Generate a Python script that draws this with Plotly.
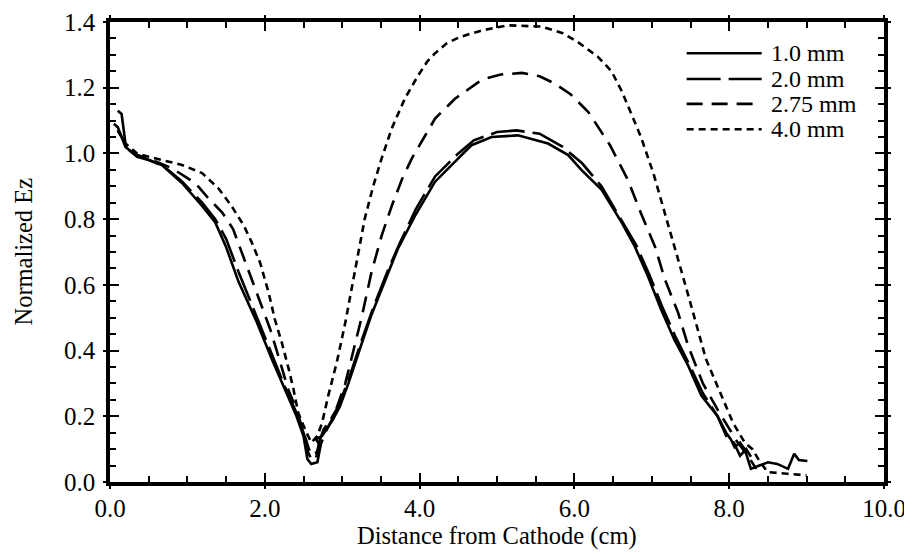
import plotly.graph_objects as go

# 读图得到的数据 (Distance from Cathode, cm -> Normalized Ez)
x_10mm = [0.05, 0.1, 0.2, 0.3, 0.45, 0.67, 0.93, 1.19, 1.36, 1.5, 1.66, 1.9, 2.09, 2.26, 2.41, 2.5,
          2.55, 2.6, 2.68, 2.72, 2.66, 2.74, 2.8, 2.88, 2.97, 3.08, 3.25, 3.38, 3.6, 3.72, 3.94, 4.2,
          4.5, 4.67, 4.93, 5.27, 5.66, 5.92, 6.09, 6.35, 6.61, 6.78, 6.95, 7.12, 7.29, 7.47, 7.64,
          7.85, 7.96, 8.02, 8.07, 8.14, 8.2, 8.28, 8.39, 8.5, 8.62, 8.76, 8.84, 8.9, 9.01]
y_10mm = [1.09, 1.08, 1.02, 1.0, 0.985, 0.965, 0.91, 0.84, 0.79, 0.715, 0.61, 0.485, 0.374, 0.283, 0.2, 0.14,
          0.07, 0.055, 0.06, 0.11, 0.13, 0.14, 0.16, 0.19, 0.23, 0.3, 0.42, 0.51, 0.64, 0.71, 0.81, 0.914,
          0.985, 1.025, 1.05, 1.055, 1.03, 0.995, 0.95, 0.89, 0.79, 0.717, 0.626, 0.525, 0.434, 0.354, 0.263,
          0.2, 0.15, 0.13, 0.106, 0.12, 0.1, 0.04, 0.05, 0.06, 0.055, 0.04, 0.086, 0.067, 0.064]

x_20mm = [0.1, 0.15, 0.2, 0.25, 0.35, 0.5, 0.7, 0.93, 1.19, 1.36, 1.5, 1.66, 1.9, 2.09, 2.26, 2.41, 2.5,
          2.56, 2.6, 2.66, 2.7, 2.76, 2.85, 2.95, 3.08, 3.25, 3.4, 3.6, 3.75, 3.95, 4.2, 4.5, 4.7, 5.0,
          5.25, 5.55, 5.85, 6.1, 6.35, 6.6, 6.8, 6.97, 7.14, 7.31, 7.48, 7.66, 7.85, 7.98, 8.06, 8.14,
          8.22, 8.3]
y_20mm = [1.13, 1.12, 1.03, 1.01, 0.99, 0.98, 0.96, 0.915, 0.85, 0.8, 0.74, 0.64, 0.5, 0.39, 0.29, 0.21, 0.15,
          0.09, 0.07, 0.07, 0.12, 0.16, 0.19, 0.23, 0.31, 0.43, 0.53, 0.65, 0.73, 0.83, 0.93, 1.0, 1.04, 1.065,
          1.07, 1.06, 1.02, 0.97, 0.9, 0.8, 0.72, 0.63, 0.53, 0.44, 0.36, 0.27, 0.2, 0.13, 0.12, 0.08,
          0.1, 0.07]

x_275mm = [0.1, 0.2, 0.35, 0.5, 0.8, 1.1, 1.27, 1.45, 1.59, 1.7, 1.92, 2.07, 2.2, 2.3, 2.41, 2.5, 2.57,
           2.63, 2.7, 2.78, 2.89, 3.04, 3.17, 3.25, 3.38, 3.51, 3.64, 3.77, 3.9, 4.07, 4.2, 4.37, 4.46,
           4.76, 4.84, 5.05, 5.32, 5.55, 5.75, 5.95, 6.18, 6.46, 6.69, 6.86, 7.04, 7.17, 7.34, 7.47,
           7.66, 7.85, 8.0, 8.11, 8.24, 8.35]
y_275mm = [1.07, 1.03, 0.995, 0.985, 0.955, 0.91, 0.864, 0.82, 0.77, 0.7, 0.566, 0.465, 0.364, 0.283, 0.22, 0.15, 0.1,
           0.08, 0.1, 0.15, 0.2, 0.3, 0.42, 0.5, 0.64, 0.75, 0.84, 0.92, 0.985, 1.055, 1.106, 1.146, 1.167,
           1.217, 1.227, 1.24, 1.245, 1.235, 1.212, 1.18, 1.126, 1.025, 0.92, 0.818, 0.717, 0.616, 0.515, 0.414,
           0.3, 0.22, 0.16, 0.12, 0.08, 0.04]

x_40mm = [0.1, 0.2, 0.35, 0.5, 0.93, 1.19, 1.4, 1.57, 1.73, 1.83, 1.94, 2.05, 2.13, 2.22, 2.31, 2.37, 2.43,
          2.52, 2.6, 2.68, 2.74, 2.82, 2.93, 3.04, 3.12, 3.21, 3.29, 3.4, 3.51, 3.64, 3.81, 3.98, 4.1, 4.2,
          4.35, 4.5, 4.65, 4.84, 5.14, 5.57, 5.85, 6.05, 6.3, 6.48, 6.61, 6.74, 6.86, 7.02, 7.12, 7.23, 7.34,
          7.45, 7.57, 7.7, 7.9, 8.05, 8.2, 8.3, 8.4, 8.5, 8.75, 9.0]
y_40mm = [1.07, 1.03, 1.0, 0.99, 0.965, 0.94, 0.894, 0.84, 0.78, 0.73, 0.667, 0.576, 0.495, 0.424, 0.343, 0.283, 0.212,
          0.16, 0.12, 0.14, 0.18, 0.263, 0.364, 0.485, 0.586, 0.7, 0.8, 0.9, 0.985, 1.076, 1.167, 1.237, 1.28, 1.305,
          1.335, 1.352, 1.364, 1.376, 1.39, 1.386, 1.366, 1.338, 1.295, 1.25, 1.19, 1.118, 1.05, 0.94, 0.86, 0.77, 0.677,
          0.586, 0.485, 0.374, 0.263, 0.18, 0.12, 0.1, 0.06, 0.03, 0.025, 0.02]

names = ['1.0 mm', '2.0 mm', '2.75 mm', '4.0 mm']
xs = [x_10mm, x_20mm, x_275mm, x_40mm]
ys = [y_10mm, y_20mm, y_275mm, y_40mm]
dashes = ['solid', '34px,8px', '16px,9px', '7px,5px']

FONT = 'Liberation Serif, Times New Roman, serif'

fig = go.Figure()
for name, x, y, d in zip(names, xs, ys, dashes):
    fig.add_trace(go.Scatter(x=x, y=y, name=name, mode='lines', showlegend=False,
                             line=dict(color='black', width=2.6, dash=d)))
# 空 trace, 让外侧刻度轴显示出来
fig.add_trace(go.Scatter(x=[], y=[], xaxis='x2', yaxis='y2', showlegend=False, hoverinfo='skip'))

# 手动图例 (线段较长)
legend_y = [0.932, 0.876, 0.822, 0.767]
for name, d, ly in zip(names, dashes, legend_y):
    fig.add_shape(type='line', xref='paper', yref='paper', x0=0.745, x1=0.842, y0=ly, y1=ly,
                  line=dict(color='black', width=2.6, dash=d))
    fig.add_annotation(xref='paper', yref='paper', x=0.852, y=ly, text=name, showarrow=False,
                       xanchor='left', yanchor='middle', font=dict(size=24, color='black', family=FONT))

# 坐标轴标题
fig.add_annotation(xref='paper', yref='paper', x=0.5, y=-0.118, yanchor='middle', showarrow=False,
                   text='Distance from Cathode (cm)', font=dict(size=24.5, color='black', family=FONT))
fig.add_annotation(xref='paper', yref='paper', x=-0.113, y=0.5, xanchor='center', textangle=-90,
                   showarrow=False, text='Normalized Ez', font=dict(size=24.5, color='black', family=FONT))

axis_common = dict(showgrid=False, zeroline=False, showline=True, linewidth=3.5, linecolor='black',
                   mirror='ticks', ticks='inside', ticklen=9, tickwidth=2, tickcolor='black', automargin=False,
                   ticklabeloverflow='allow', tickfont=dict(size=25, color='black', family=FONT))
outer_common = dict(showgrid=False, zeroline=False, showline=False, ticks='outside', ticklen=6,
                    tickwidth=2, tickcolor='black', showticklabels=False, mirror='ticks', automargin=False)

# 页面 body 默认有 8px 边距, 图尺寸相应缩小
fig.update_layout(
    width=904, height=546,
    margin=dict(l=102, r=28, t=14, b=72),
    plot_bgcolor='white', paper_bgcolor='white',
    font=dict(family=FONT, color='black'),
    xaxis=dict(range=[0, 10], tick0=0, dtick=2, tickformat='.1f', ticklabelstandoff=1,
               minor=dict(dtick=0.5, ticks='inside', ticklen=6, tickwidth=2, tickcolor='black'),
               **axis_common),
    yaxis=dict(range=[0, 1.4], tick0=0, dtick=0.2, tickformat='.1f', ticklabelstandoff=6,
               minor=dict(dtick=0.05, ticks='inside', ticklen=6, tickwidth=2, tickcolor='black'),
               **axis_common),
    xaxis2=dict(overlaying='x', anchor='y', range=[0, 10], tick0=0, dtick=2, **outer_common),
    yaxis2=dict(overlaying='y', anchor='x', range=[0, 1.4], tick0=0, dtick=0.2, **outer_common),
)

fig.write_html("out.html")
